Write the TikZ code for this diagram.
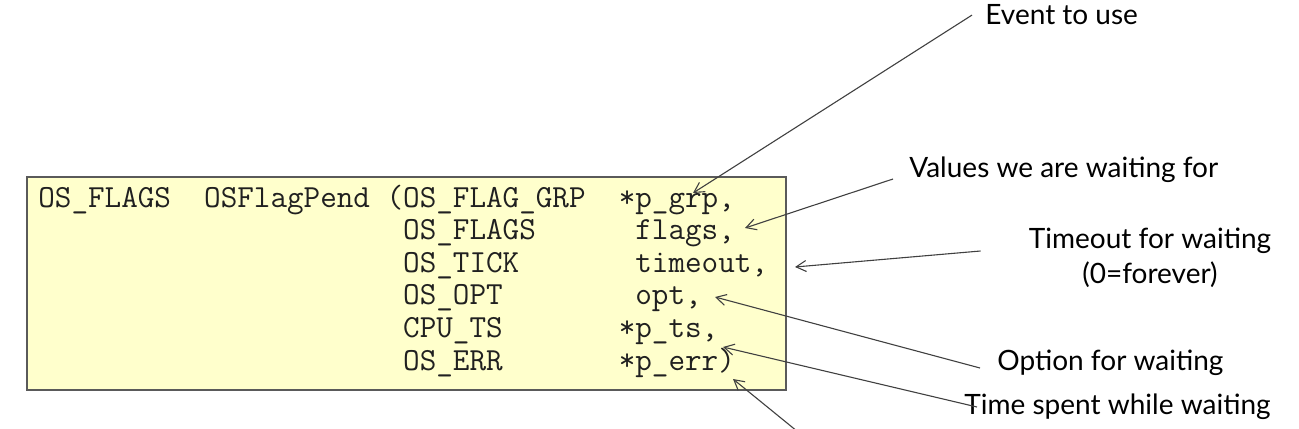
\documentclass[tikz,border=0pt]{standalone}
\usepackage{fontspec}
\setsansfont{Lato}
\usepackage{tikz}
\usetikzlibrary{arrows.meta}
\definecolor{codefill}{HTML}{FFFFCC}
\definecolor{codeframe}{HTML}{5A5A5A}
\definecolor{codeink}{HTML}{202020}
\newcommand\argindent{\hphantom{OS\_FLAGS~~OSFlagPend~(}}

\begin{document}
\begin{tikzpicture}[
  x=0.5pt, y=-0.5pt,
  codebox/.style={
    rectangle, draw=codeframe, fill=codefill, line width=0.9pt,
    minimum width=379.5pt, minimum height=106.5pt, inner sep=0pt
  },
  codeline/.style={
    anchor=base west, inner sep=0pt, text=codeink,
    font=\ttfamily\fontsize{16.1}{18}\selectfont
  },
  note/.style={
    anchor=base west, inner sep=0pt, text=black,
    font=\sffamily\fontsize{14}{17.5}\selectfont
  },
  pointer/.style={draw=black!75, line width=0.55pt,
    -{Straight Barb[length=5pt,width=5.5pt]}}
]
\useasboundingbox (0,0) rectangle (1299,428);
\clip (0,0) rectangle (1299,428);

\node[codebox] (box) at (406.5,283.5) {};

\node[codeline] (sig) at (38,207) {OS\_FLAGS~~OSFlagPend~(OS\_FLAG\_GRP~~*p\_grp,};
\node[codeline] (argflags) at (38,239.6) {\argindent OS\_FLAGS~~~~~~flags,};
\node[codeline] (argtout) at (38,272.2) {\argindent OS\_TICK~~~~~~~timeout,};
\node[codeline] (argopt) at (38,304.8) {\argindent OS\_OPT~~~~~~~~opt,};
\node[codeline] (argts) at (38,337.4) {\argindent CPU\_TS~~~~~~~*p\_ts,};
\node[codeline] (argerr) at (38,370) {\argindent OS\_ERR~~~~~~~*p\_err)};

\node[note] (evt) at (985,25) {Event to use};
\node[note] (val) at (909,177) {Values we are waiting for};
\node[note, anchor=center, align=center] (tout) at (1150,258) {Timeout for waiting\\(0=forever)};
\node[note] (optn) at (997,370) {Option for waiting};
\node[note] (spent) at (964,414) {Time spent while waiting};

% arrow tips inside the code box
\coordinate (tipgrp) at (693,193);
\coordinate (tipflags) at (745,228);
\coordinate (tiptout) at (795,267);
\coordinate (tipopt) at (715,297);
\coordinate (tipts) at (723,347);
\coordinate (tiperr) at (733,379);
\coordinate (errfrom) at (830,458);

\draw[pointer] ([xshift=-6.5pt]evt.west) -- (tipgrp);
\draw[pointer] ([xshift=-8pt,yshift=-1pt]val.base west) -- (tipflags);
\draw[pointer] ([xshift=-24pt,yshift=3.5pt]tout.west) -- (tiptout);
\draw[pointer] ([xshift=-8.5pt,yshift=1pt]optn.base west) -- (tipopt);
\draw[pointer] ([xshift=6.5pt,yshift=3.5pt]spent.base west) -- (tipts);
\draw[pointer] (errfrom) -- (tiperr);
\end{tikzpicture}
\end{document}
